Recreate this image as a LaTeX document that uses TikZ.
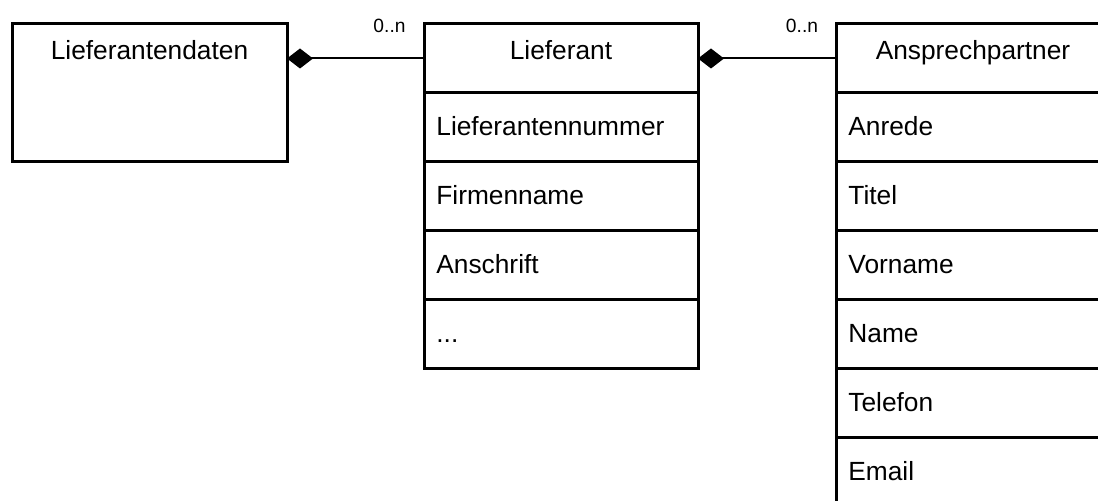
\documentclass[tikz,border=0pt]{standalone}
\usepackage{fontspec}
\setmainfont{Liberation Sans}
\usetikzlibrary{arrows.meta}
\begin{document}
\begin{tikzpicture}[x=0.5pt,y=-0.5pt,
  font=\fontsize{13.15}{16}\selectfont,
  cls/.style={draw, line width=1.5pt, rectangle, inner sep=0pt, outer sep=0pt,
              anchor=north west, minimum width=137pt},
  rowbox/.style={cls, minimum height=34.5pt},
  title/.style={anchor=base, inner sep=0pt},
  attr/.style={anchor=base west, inner sep=0pt},
  mult/.style={anchor=base, inner sep=0pt, font=\fontsize{9.6}{11}\selectfont},
  assoc/.style={line width=1pt, {Diamond[length=13pt,width=10pt]}-}
]
\useasboundingbox (0,0) rectangle (1098,501);
\clip (0,0) rectangle (1098,501);

% Lieferantendaten
\node[cls, minimum width=137.5pt, minimum height=69pt] (daten) at (12,24) {};
\node[title] (datenT) at ([yshift=-18pt]daten.north) {Lieferantendaten};

% Lieferant with its attributes
\node[rowbox] (lief0) at (424,24) {};
\node[title] (lief0T) at ([yshift=-18pt]lief0.north) {Lieferant};
\node[rowbox] (lief1) at (424,93) {};
\node[rowbox] (lief2) at (424,162) {};
\node[rowbox] (lief3) at (424,231) {};
\node[rowbox] (lief4) at (424,300) {};
\node[attr] (lief1T) at ([xshift=6pt,yshift=-21.5pt]lief1.north west) {Lieferantennummer};
\node[attr] (lief2T) at ([xshift=6pt,yshift=-21.5pt]lief2.north west) {Firmenname};
\node[attr] (lief3T) at ([xshift=6pt,yshift=-21.5pt]lief3.north west) {Anschrift};
\node[attr] (lief4T) at ([xshift=6pt,yshift=-21.5pt]lief4.north west) {...};

% Ansprechpartner with its attributes
\node[rowbox] (ansp0) at (836,24) {};
\node[title] (ansp0T) at ([yshift=-18pt]ansp0.north) {Ansprechpartner};
\foreach \t [count=\i] in {Anrede,Titel,Vorname,Name,Telefon,Email} {
  \node[rowbox] (ansp\i) at (836,{24+69*\i}) {};
  \node[attr] (ansp\i T) at ([xshift=6pt,yshift=-21.5pt]ansp\i.north west) {\t};
}

% Compositions
\draw[assoc] (daten.east |- lief0.west) -- (lief0.west);
\draw[assoc] (lief0.east) -- (ansp0.west);
\node[mult] (m1) at ([xshift=-17.25pt,yshift=-4.5pt]lief0.north west) {0..n};
\node[mult] (m2) at ([xshift=-17pt,yshift=-4.5pt]ansp0.north west) {0..n};
\end{tikzpicture}
\end{document}
